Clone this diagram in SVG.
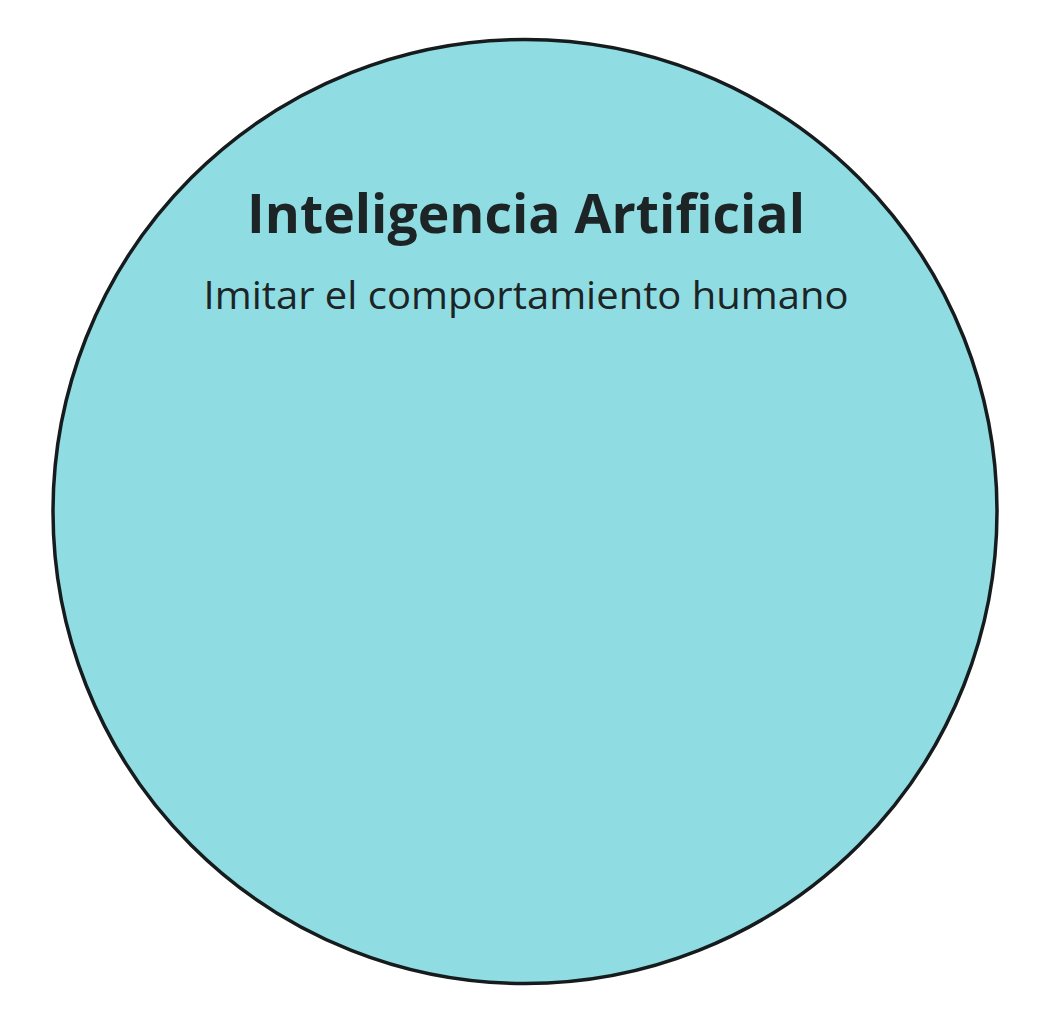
<svg xmlns="http://www.w3.org/2000/svg" width="1052" height="1024" viewBox="0 0 1052 1024">
<style>
.title{font-family:"Open Sans","Noto Sans",sans-serif;font-weight:700;font-size:53px;fill:#1c2426}
.sub{font-family:"Open Sans","Noto Sans",sans-serif;font-weight:400;font-size:38px;fill:#1c2426}
</style>
<rect width="1052" height="1024" fill="#ffffff"/>
<g id="ia">
<circle cx="525" cy="511.5" r="472" fill="#8fdde2" stroke="#161c1d" stroke-width="3.5"/>
<text class="title" x="526" y="233" text-anchor="middle" textLength="558" lengthAdjust="spacingAndGlyphs">Inteligencia Artificial</text>
<text class="sub" x="526" y="309" text-anchor="middle" textLength="645" lengthAdjust="spacingAndGlyphs">Imitar el comportamiento humano</text>
</g>
<g id="connectors"/>
</svg>
